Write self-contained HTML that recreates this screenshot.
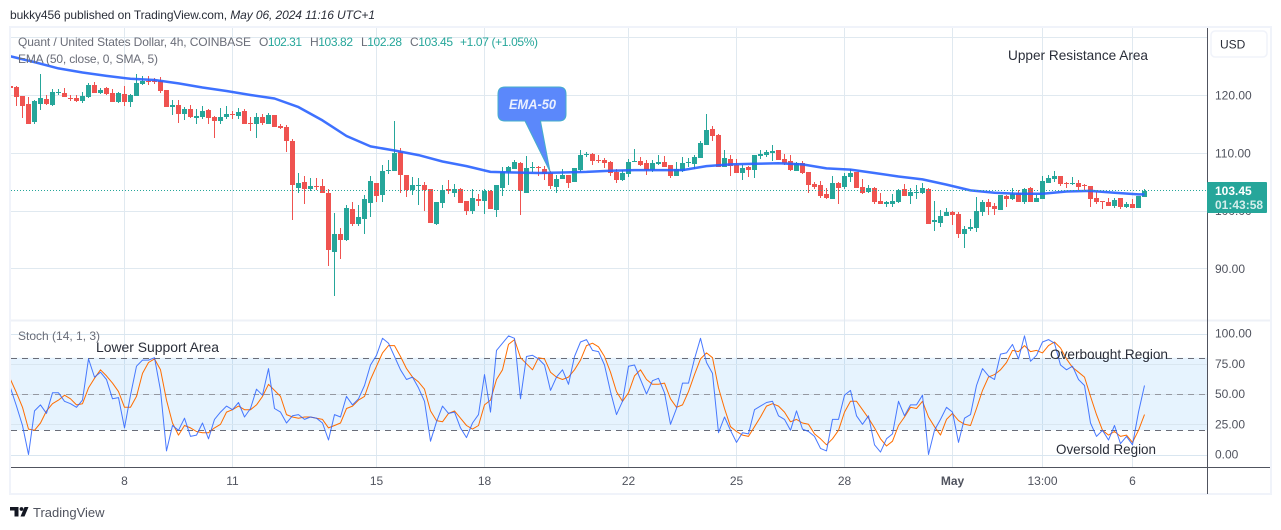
<!DOCTYPE html>
<html lang="en">
<head>
<meta charset="utf-8">
<title>Quant / United States Dollar chart</title>
<style>
html,body{margin:0;padding:0;background:#fff;width:1281px;height:530px;overflow:hidden}
svg{display:block;font-family:"Liberation Sans",Arial,sans-serif}
</style>
</head>
<body>
<svg id="chart" xmlns="http://www.w3.org/2000/svg" width="1281" height="530" viewBox="0 0 1281 530">
  <defs>
    <clipPath id="main-clip"><rect x="11" y="28" width="1196" height="291"/></clipPath>
    <clipPath id="stoch-clip"><rect x="11" y="322" width="1196" height="145"/></clipPath>
  </defs>
  <text x="10" y="19" font-size="12" fill="#2a2e39" textLength="365" lengthAdjust="spacing">bukky456 published on TradingView.com, <tspan font-style="italic">May 06, 2024 11:16 UTC+1</tspan></text>
  <rect x="10" y="27" width="1261" height="467" fill="#fff" stroke="#f0f3fa" stroke-width="2"/>
  <rect x="11" y="319.5" width="1259" height="2" fill="#eef1f7"/>
  <g id="grid"></g>
  <rect x="11" y="357.7" width="1196" height="72.6" fill="#2196f3" fill-opacity="0.115"/>
  <g id="stoch-grid"></g>
  <g id="stoch-levels"></g>
  <g id="candles" clip-path="url(#main-clip)" shape-rendering="crispEdges"></g>
  <polyline id="ema-line" clip-path="url(#main-clip)" fill="none" stroke="#2962ff" stroke-width="2.5" stroke-opacity="0.9" stroke-linejoin="round"/>
  <line x1="11" x2="1207" y1="190.5" y2="190.5" stroke="#26a69a" stroke-width="1" stroke-dasharray="1 2" shape-rendering="crispEdges"/>
  <polyline id="d-line" clip-path="url(#stoch-clip)" fill="none" stroke="#ff6d00" stroke-width="1" stroke-linejoin="round"/>
  <polyline id="k-line" clip-path="url(#stoch-clip)" fill="none" stroke="#2962ff" stroke-opacity="0.85" stroke-width="1" stroke-linejoin="round"/>

  <g font-size="12" fill="#6a6d78">
    <text x="18" y="46" textLength="233" lengthAdjust="spacing">Quant / United States Dollar, 4h, COINBASE</text>
    <text x="259" y="46" textLength="43" lengthAdjust="spacing">O<tspan fill="#26a69a">102.31</tspan></text>
    <text x="310" y="46" textLength="43" lengthAdjust="spacing">H<tspan fill="#26a69a">103.82</tspan></text>
    <text x="361" y="46" textLength="41" lengthAdjust="spacing">L<tspan fill="#26a69a">102.28</tspan></text>
    <text x="410" y="46" textLength="43" lengthAdjust="spacing">C<tspan fill="#26a69a">103.45</tspan></text>
    <text x="460" y="46" fill="#26a69a" textLength="78" lengthAdjust="spacing">+1.07 (+1.05%)</text>
    <text x="18" y="63" textLength="140" lengthAdjust="spacing">EMA (50, close, 0, SMA, 5)</text>
  </g>
  <text x="18" y="340" font-size="12" fill="#6a6d78">Stoch (14, 1, 3)</text>

  <text x="1008" y="60" font-size="14" fill="#2a2e39" textLength="140" lengthAdjust="spacingAndGlyphs">Upper Resistance Area</text>
  <text x="96" y="352" font-size="14" fill="#2a2e39" textLength="123" lengthAdjust="spacingAndGlyphs">Lower Support Area</text>
  <text x="1050" y="359" font-size="14" fill="#2a2e39" textLength="118" lengthAdjust="spacingAndGlyphs">Overbought Region</text>
  <text x="1056" y="454" font-size="14" fill="#2a2e39" textLength="100" lengthAdjust="spacingAndGlyphs">Oversold Region</text>

  <g>
    <path d="M505 87H559Q566 87 566 94V114Q566 121 559 121H540.5L550 171.5L525 121H505Q498 121 498 114V94Q498 87 505 87Z" fill="#5b88fb" stroke="#45aecb" stroke-width="1"/>
    <text x="509" y="109" font-size="14" font-weight="bold" font-style="italic" fill="#eaf0ff" textLength="47" lengthAdjust="spacingAndGlyphs">EMA-50</text>
  </g>

  <line x1="11" x2="1270" y1="467.5" y2="467.5" stroke="#50535e" stroke-width="1"/>
  <line x1="1207.5" x2="1207.5" y1="28" y2="494" stroke="#50535e" stroke-width="1"/>
  <g id="price-labels" font-size="12" fill="#50535e"></g>
  <g id="stoch-labels" font-size="12" fill="#50535e"></g>
  <g id="time-labels" font-size="12" fill="#50535e" text-anchor="middle"></g>

  <g>
    <rect x="1211" y="31" width="56" height="26" rx="4" fill="#fff" stroke="#f0f3fa" stroke-width="1.5"/>
    <text x="1220" y="48.5" font-size="12" fill="#2a2e39">USD</text>
  </g>
  <g>
    <rect x="1207" y="182" width="60" height="31" rx="1" fill="#26a69a"/>
    <text x="1215" y="195" font-size="12" font-weight="bold" fill="#fff">103.45</text>
    <text x="1215" y="209" font-size="12" font-weight="bold" fill="#d4eeeb">01:43:58</text>
  </g>

  <g transform="translate(11,507)">
    <path d="M-1 0H7.5V9.5H3.5V3.5H-1Z M17.5 0H13.5L9.5 9.5H13.5Z" fill="#131722"/>
    <circle cx="10.5" cy="2" r="1.9" fill="#131722"/>
    <text x="22" y="10" font-size="13" fill="#50535e">TradingView</text>
  </g>
</svg>
<script>
const opens=[121.6,121.4,119.8,118.4,115.3,118.4,119.3,118.3,120.3,120.3,119.5,119.5,119.0,119.7,121.7,120.3,121.2,120.3,118.8,120.2,118.8,119.8,121.9,122.4,122.4,122.4,120.9,117.9,118.3,116.7,117.6,116.0,116.2,117.4,116.2,115.5,116.2,116.7,116.4,117.2,115.2,115.0,116.2,115.0,116.5,114.6,114.5,112.0,103.9,104.9,103.7,104.3,104.3,103.0,92.8,96.0,94.9,100.3,97.7,98.6,101.3,104.8,102.7,106.8,106.8,110.1,106.2,103.6,104.3,104.4,103.7,97.7,101.3,103.7,103.0,103.7,101.7,99.9,102.0,101.7,103.4,100.1,103.9,106.7,107.2,108.2,103.0,107.4,107.5,107.2,106.5,104.1,105.5,106.2,104.9,107.0,109.6,109.8,108.8,108.8,108.4,106.7,105.3,106.3,108.4,108.6,108.2,107.0,108.1,108.4,107.9,106.0,106.8,108.2,108.1,109.1,111.4,114.1,113.1,107.5,108.9,107.9,106.5,107.5,107.0,109.4,109.6,110.0,110.5,108.9,108.6,106.8,108.2,106.7,104.6,104.4,102.9,102.0,104.8,104.1,105.8,106.7,104.1,103.2,103.9,101.7,101.1,101.1,101.5,103.7,102.5,103.0,103.0,103.7,98.0,97.9,99.1,99.8,99.4,96.0,96.8,97.0,99.8,101.5,100.8,100.1,102.5,102.0,103.0,101.5,103.9,101.5,102.0,104.8,105.5,106.0,104.8,104.6,104.8,104.4,104.3,102.2,101.7,101.5,100.8,102.2,100.6,101.1,100.5,102.31];
const highs=[121.7,121.6,119.8,119.7,119.1,123.6,120.0,121.0,121.0,121.2,120.0,120.0,120.5,122.1,122.3,121.2,121.4,121.0,120.5,121.6,120.2,123.6,123.3,123.3,122.9,123.1,120.9,119.1,119.1,117.9,118.3,117.6,118.1,117.6,116.4,117.8,118.1,117.2,117.8,117.6,116.2,116.9,116.7,116.9,116.5,115.0,114.8,112.4,106.5,106.0,105.6,105.6,105.5,103.7,99.6,97.0,101.0,101.5,101.0,102.7,106.0,104.8,107.9,108.8,115.5,110.8,106.2,105.8,105.6,104.9,103.7,101.5,104.4,105.3,104.6,103.9,101.7,103.7,102.9,103.7,103.6,104.4,107.5,107.7,108.8,108.4,109.4,108.4,107.7,107.7,106.8,106.2,107.2,106.2,107.4,110.5,110.1,110.0,109.6,109.1,108.6,107.2,107.0,108.9,110.7,109.3,108.8,108.8,109.6,109.4,107.9,108.4,109.3,109.1,109.6,112.0,116.7,114.6,113.3,110.5,109.6,108.9,107.9,107.7,109.6,110.5,110.5,111.4,110.5,109.8,109.6,108.4,108.6,106.7,104.9,105.1,103.9,106.0,104.9,106.5,107.2,106.7,105.5,104.4,104.1,103.0,101.7,102.9,103.7,104.6,103.9,104.4,104.8,103.9,101.7,100.1,100.5,99.9,99.8,97.3,98.6,102.4,101.8,102.0,101.3,102.7,102.7,103.9,103.6,103.9,104.1,102.7,106.0,106.2,106.8,106.0,104.9,105.8,105.3,104.6,104.3,103.2,101.7,102.2,102.2,102.2,101.5,102.0,102.5,103.82];
const lows=[119.5,118.1,116.0,115.0,115.0,117.4,118.3,118.1,120.0,119.7,119.0,118.8,118.6,119.5,120.3,120.2,120.0,118.8,118.6,118.1,117.9,119.8,121.7,121.7,121.9,120.3,117.9,116.5,115.2,115.7,116.0,115.0,115.8,115.0,112.6,115.0,115.8,115.8,115.8,115.0,113.8,112.6,114.8,115.0,114.5,114.1,110.1,98.4,103.0,101.1,103.4,103.6,103.0,90.4,85.2,91.6,94.7,97.3,97.3,96.0,98.9,101.5,101.5,106.3,106.8,103.0,102.4,102.7,101.0,99.9,97.9,97.5,100.5,102.9,102.4,101.3,99.2,99.4,100.8,99.4,100.3,98.9,102.5,104.4,107.2,99.2,103.0,106.7,106.0,105.3,103.7,103.0,105.5,103.9,104.9,106.7,109.3,107.9,108.2,107.4,106.0,104.8,105.1,105.8,108.4,107.7,106.2,106.7,107.9,107.5,105.6,106.0,106.7,107.5,107.2,109.1,111.4,112.0,107.5,107.5,106.0,106.5,105.3,105.8,105.6,108.9,109.3,108.6,108.8,107.9,106.8,106.8,106.3,103.0,103.7,102.2,102.0,102.0,101.1,103.7,104.9,103.9,102.9,103.0,101.1,101.1,100.6,100.6,101.3,102.5,101.1,102.0,102.9,97.7,96.5,97.2,99.1,97.5,95.3,93.5,96.5,96.3,99.1,99.2,99.2,100.1,100.6,101.8,101.5,101.1,101.5,101.5,102.0,104.8,104.9,104.3,103.9,104.4,103.6,103.6,100.6,101.1,100.3,100.8,100.5,100.3,100.5,100.5,100.5,102.28];
const closes=[121.2,119.7,118.1,115.0,119.0,119.5,118.4,120.5,120.5,119.7,119.3,119.0,119.8,121.7,120.3,120.9,120.2,118.8,120.3,118.8,120.0,122.1,122.4,122.3,122.3,120.7,117.9,118.3,116.7,117.6,116.2,116.4,117.2,116.0,115.5,116.2,116.7,116.5,117.1,115.0,115.0,116.2,115.2,116.5,114.5,114.3,112.0,104.4,104.8,103.7,104.3,104.1,103.0,93.2,96.0,94.9,100.5,97.7,98.9,102.0,105.1,102.5,106.8,107.0,110.0,106.2,103.6,104.4,104.4,103.6,97.9,101.5,103.6,103.4,103.7,101.3,99.9,102.2,101.7,103.4,100.3,104.4,106.7,107.5,108.4,103.4,107.4,107.5,107.4,106.3,104.3,105.5,106.2,104.8,107.4,109.6,109.8,108.6,108.6,108.2,106.5,105.3,106.5,108.4,108.6,107.9,107.0,108.2,108.4,107.5,106.0,107.2,108.2,108.4,109.3,111.7,113.9,112.9,107.5,109.1,107.7,106.5,107.4,107.0,109.6,109.8,110.1,110.3,108.8,108.2,107.0,108.2,106.5,104.4,104.1,102.5,102.2,104.8,103.9,106.0,106.5,103.9,103.0,103.9,101.5,101.1,101.5,101.7,103.6,102.5,103.2,103.2,103.9,97.7,98.4,99.1,99.8,99.2,96.0,96.8,97.2,99.9,101.5,100.6,100.3,102.7,102.0,102.9,101.5,103.7,101.5,102.2,105.1,105.6,106.0,104.6,104.6,104.8,104.1,104.3,102.0,101.5,101.5,100.8,101.8,100.6,101.1,100.5,102.5,103.45];
const emaEvery4Bars=[126.7,125.7,124.6,123.9,123.3,122.8,122.6,122.0,121.3,120.7,120.0,119.4,117.9,115.6,112.9,111.1,110.4,109.6,108.5,107.7,106.7,106.6,106.5,106.6,106.7,106.9,107.0,107.0,107.0,107.7,108.0,108.1,108.2,108.0,107.3,107.1,106.5,105.9,105.4,104.5,103.5,103.1,102.9,102.9,103.3,103.4,103.1,102.8];
const stochK=[55,40,24,0,36,41,34,51,51,44,42,39,45,79,64,68,62,46,47,22,49,73,78,78,80,53,3,24,20,30,15,16,26,13,29,35,40,37,43,31,38,54,49,71,38,35,26,32,33,29,31,30,26,12,33,31,48,41,46,57,74,82,96,92,81,70,62,64,55,44,11,27,40,34,35,22,14,26,33,66,35,86,92,98,96,46,81,82,79,74,53,64,70,58,81,93,95,86,85,74,52,33,44,73,74,62,50,61,63,51,25,38,59,59,79,96,76,67,18,31,20,10,18,17,37,40,43,44,32,29,20,36,21,19,15,5,3,29,29,49,53,32,25,32,8,2,13,17,44,32,41,41,49,0,20,29,39,35,10,30,33,57,71,65,62,83,84,91,79,98,77,82,93,95,92,74,70,73,62,57,26,15,20,12,24,9,15,8,35,57];
const stochD=[62,51,39,21,20,26,36,42,45,49,46,41,42,55,63,70,65,59,52,39,39,48,67,76,79,70,45,26,16,24,22,19,18,18,22,25,35,37,40,37,37,41,48,58,53,48,33,31,30,31,31,30,29,22,24,26,38,40,45,48,62,73,84,90,90,81,71,64,60,54,36,28,27,34,36,30,24,21,24,41,45,62,70,91,95,80,75,70,80,79,68,64,62,64,70,78,90,92,89,81,68,52,44,51,65,70,62,58,58,59,46,39,41,52,66,79,84,80,55,38,23,19,16,15,23,31,40,42,40,35,27,29,26,25,17,13,8,13,20,35,44,44,37,30,22,13,7,11,24,31,39,38,44,31,23,16,29,34,28,25,24,38,53,64,66,70,76,86,85,90,85,86,84,90,93,88,79,72,68,64,48,33,20,16,19,15,16,10,20,33];
const priceGridValues=[130,120,110,100,90];
const priceTickValues=[120,110,100,90];
const stochTickValues=[100,75,50,25,0];
const stochLevelValues=[80,50,20];
const timeBars=[19,37,61,79,103,121,139,157,172,187];
const timeLabels=['8','11','15','18','22','25','28','May','13:00','6'];

const NS='http://www.w3.org/2000/svg';
const xBar=i=>10+6*i;
const yPrice=p=>95+(120-p)*5.78;
const yStoch=v=>454.5-v*1.21;
const make=(tag,parent,attrs)=>{
  const el=document.createElementNS(NS,tag);
  for(const k in attrs)el.setAttribute(k,attrs[k]);
  parent.appendChild(el);
  return el;
};

const gridG=document.getElementById('grid');
priceGridValues.forEach(v=>{
  const y=Math.round(yPrice(v))+0.5;
  const el=make('line',gridG,{x1:11,x2:1207,y1:y,y2:y,stroke:'#e0e9f0','stroke-width':1});
  
  
});
timeBars.forEach(b=>{
  const x=xBar(b)+0.5;
  const el=make('line',gridG,{x1:x,x2:x,y1:28,y2:467,stroke:'#e0e9f0','stroke-width':1});
  
  
});

const stochGridG=document.getElementById('stoch-grid');
stochTickValues.forEach(v=>{
  const y=Math.round(yStoch(v))+0.5;
  const el=make('line',stochGridG,{x1:11,x2:1207,y1:y,y2:y,stroke:'#d9e6f0','stroke-width':1});
  
  
});

const levelsG=document.getElementById('stoch-levels');
stochLevelValues.forEach(v=>{
  const y=Math.round(yStoch(v))+0.5;
  const el=make('line',levelsG,{x1:11,x2:1207,y1:y,y2:y,stroke:v===50?'#9598a1':'#6a6d78','stroke-width':1,'stroke-dasharray':'6 5'});
  
  
});

const candlesG=document.getElementById('candles');
opens.forEach((o,i)=>{
  const c=closes[i];
  const col=c>=o?'#26a69a':'#ef5350';
  const x=xBar(i);
  const g=make('g',candlesG,{fill:col});
  
  
  const wt=Math.round(yPrice(highs[i]));
  const wb=Math.round(yPrice(lows[i]));
  make('rect',g,{x:x,y:wt,width:1,height:Math.max(1,wb-wt)});
  const bt=Math.round(yPrice(Math.max(o,c)));
  const bb=Math.round(yPrice(Math.min(o,c)));
  make('rect',g,{x:x-2,y:bt,width:5,height:Math.max(1,bb-bt)});
});

const emaPts=emaEvery4Bars.map((v,k)=>(xBar(k*4)+0.5)+','+yPrice(v).toFixed(1));
emaPts.push((xBar(opens.length-1)+0.5)+','+yPrice(emaEvery4Bars[emaEvery4Bars.length-1]).toFixed(1));
document.getElementById('ema-line').setAttribute('points',emaPts.join(' '));
document.getElementById('k-line').setAttribute('points',stochK.map((v,i)=>(xBar(i)+0.5)+','+yStoch(v).toFixed(1)).join(' '));
document.getElementById('d-line').setAttribute('points',stochD.map((v,i)=>(xBar(i)+0.5)+','+yStoch(v).toFixed(1)).join(' '));

const priceLabelsG=document.getElementById('price-labels');
priceTickValues.forEach(v=>{
  const t=make('text',priceLabelsG,{x:1215,y:yPrice(v)+4.5});
  
  
  t.textContent=v.toFixed(2);
});
const stochLabelsG=document.getElementById('stoch-labels');
stochTickValues.forEach(v=>{
  const t=make('text',stochLabelsG,{x:1215,y:yStoch(v)+4});
  
  
  t.textContent=v.toFixed(2);
});
const timeLabelsG=document.getElementById('time-labels');
timeLabels.forEach((s,i)=>{
  const t=make('text',timeLabelsG,{x:xBar(timeBars[i])+0.5,y:485});
  
  
  t.textContent=s;
  if(s==='May')t.setAttribute('font-weight','bold');
});
</script>
</body>
</html>
